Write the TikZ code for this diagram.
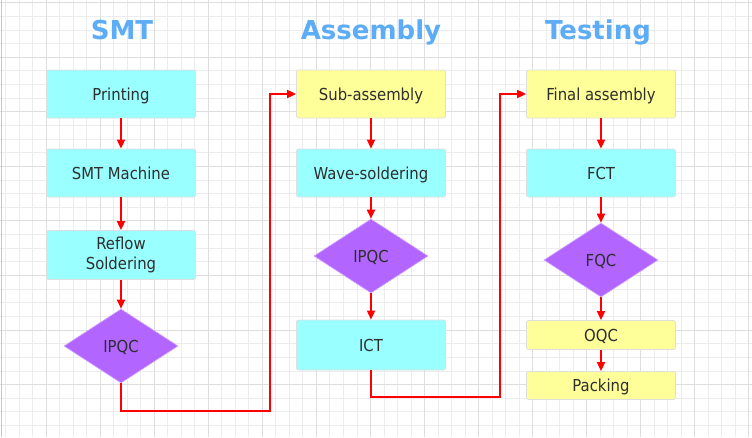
\documentclass[tikz,border=0pt]{standalone}
\usepackage{fontspec}
\newfontfamily\boxfont{DejaVu Sans Condensed}
\newfontfamily\titlefont{DejaVu Sans}
\usetikzlibrary{shapes.geometric,arrows.meta}
\definecolor{cyanfill}{HTML}{99FFFF}
\definecolor{yellowfill}{HTML}{FFFF99}
\definecolor{purp}{HTML}{B266FF}
\definecolor{titleblue}{HTML}{5CACF7}
\definecolor{textgray}{HTML}{2E2E2E}
\definecolor{gridminor}{HTML}{ECECEC}
\definecolor{gridmajor}{HTML}{DEDEDE}
\definecolor{arrred}{HTML}{FF0000}
\tikzset{
  procbase/.style={rectangle, rounded corners=2pt, draw=black!13, line width=0.8pt,
    minimum width=149pt, minimum height=48pt, inner sep=0pt, align=center,
    font=\boxfont\fontsize{16.5}{20}\selectfont, text=textgray},
  procbox/.style={procbase, text height=12pt, text depth=0pt},
  cyanbox/.style={procbox, fill=cyanfill},
  yellowbox/.style={procbox, fill=yellowfill},
  cyanbox2/.style={procbase, fill=cyanfill},
  decision/.style={diamond, fill=purp, draw=purp!60!white, line width=0.6pt,
    minimum width=114pt, minimum height=74pt, inner sep=0pt,
    font=\boxfont\fontsize{16.5}{20}\selectfont, text=textgray,
    text height=12pt, text depth=0pt},
  titletext/.style={anchor=base, inner sep=0pt, text=titleblue,
    font=\titlefont\bfseries\fontsize{26}{30}\selectfont},
  arr/.style={draw=arrred, line width=1.8pt, -{Triangle[length=9pt,width=8pt]}},
}
\begin{document}
\begin{tikzpicture}[x=1pt,y=-1pt]
\useasboundingbox (0,0) rectangle (752,437);
\fill[white] (0,0) rectangle (752,437);
% grid
\foreach \k in {0,...,55} {
  \draw[gridminor, line width=0.9pt] ({5.7+13.51*\k},0) -- ({5.7+13.51*\k},437);
}
\foreach \k in {0,...,31} {
  \draw[gridminor, line width=0.9pt] (0,{2.7+13.64*\k}) -- (752,{2.7+13.64*\k});
}
\foreach \k in {0,...,13} {
  \draw[gridmajor, line width=1.1pt] ({46.23+54.04*\k},0) -- ({46.23+54.04*\k},437);
}
\foreach \k in {0,...,7} {
  \draw[gridmajor, line width=1.1pt] (0,{2.7+54.56*\k}) -- (752,{2.7+54.56*\k});
}
\draw[black!22, line width=1.4pt] (1.5,0) -- (1.5,437);

% titles
\node[titletext] (t1) at (122,39.5) {SMT};
\node[titletext] (t2) at (371,39.5) {Assembly};
\node[titletext] (t3) at (598,39.5) {Testing};

% column 1
\node[cyanbox] (printing) at (121,94) {Printing};
\node[cyanbox] (smt) at (121,173) {SMT Machine};
\node[cyanbox2, minimum height=49pt] (reflow) at (121,255) {Reflow\\Soldering};
\node[decision] (ipqc1) at (121,346) {IPQC};

% column 2
\node[yellowbox] (sub) at (371,94) {Sub-assembly};
\node[cyanbox] (wave) at (371,173) {Wave-soldering};
\node[decision] (ipqc2) at (371,256) {IPQC};
\node[cyanbox, minimum height=50pt] (ict) at (371,345) {ICT};

% column 3
\node[yellowbox] (final) at (601,94) {Final assembly};
\node[cyanbox] (fct) at (601,173) {FCT};
\node[decision] (fqc) at (601,260) {FQC};
\node[yellowbox, minimum height=29pt] (oqc) at (601,335) {OQC};
\node[yellowbox, minimum height=28pt] (packing) at (601,385.5) {Packing};

% connectors
\draw[arr] (printing) -- (smt);
\draw[arr] (smt) -- (reflow);
\draw[arr] (reflow) -- (ipqc1);
\draw[arr] (sub) -- (wave);
\draw[arr] (wave) -- (ipqc2);
\draw[arr] (ipqc2) -- (ict);
\draw[arr] (final) -- (fct);
\draw[arr] (fct) -- (fqc);
\draw[arr] (fqc) -- (oqc);
\draw[arr] (oqc) -- (packing);

\coordinate (bend1) at (270,411);
\coordinate (bend2) at (500,397);
\draw[arr] (ipqc1.south) |- (bend1) |- (sub.west);
\draw[arr] (ict.south) |- (bend2) |- (final.west);
\end{tikzpicture}
\end{document}
